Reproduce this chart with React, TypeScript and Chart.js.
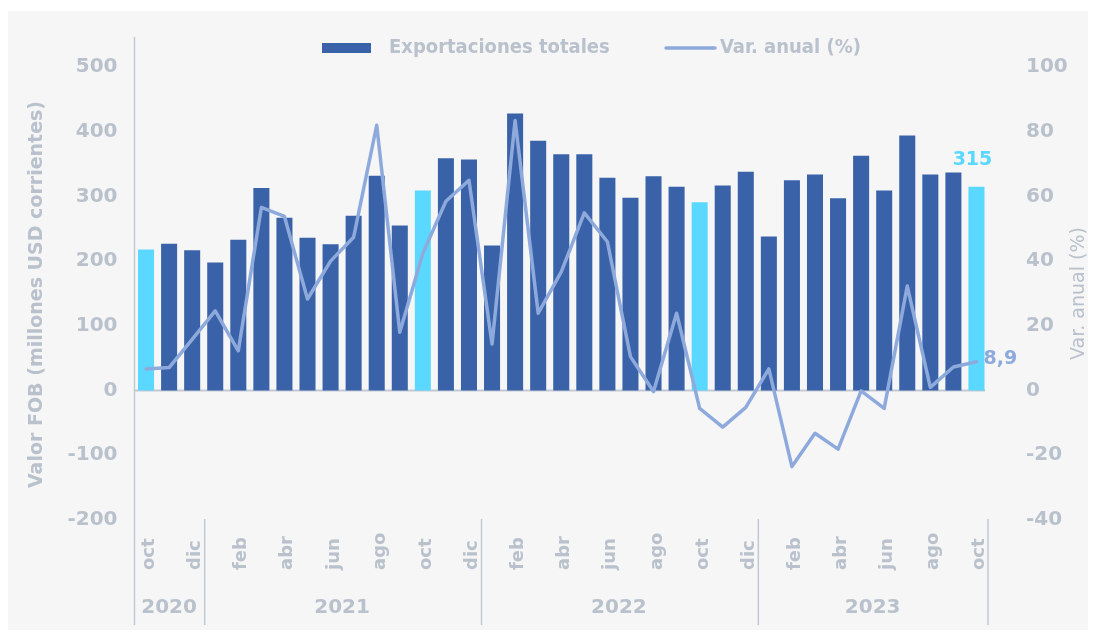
import { useEffect, useRef } from 'react';
import { Chart, registerables } from 'chart.js';

Chart.register(...registerables);

const months = [
  'oct', 'nov', 'dic',
  'ene', 'feb', 'mar', 'abr', 'may', 'jun', 'jul', 'ago', 'sep', 'oct', 'nov', 'dic',
  'ene', 'feb', 'mar', 'abr', 'may', 'jun', 'jul', 'ago', 'sep', 'oct', 'nov', 'dic',
  'ene', 'feb', 'mar', 'abr', 'may', 'jun', 'jul', 'ago', 'sep', 'oct',
];

const exportValues = [
  218, 227, 217,
  198, 233, 313, 267, 236, 226, 270, 332, 255, 309, 359, 357,
  224, 428, 386, 365, 365, 329, 298, 331, 315, 291, 317, 338,
  238, 325, 334, 297, 363, 309, 394, 334, 337, 315,
];

const varAnual = [
  6.7, 7.1, 15.8,
  24.6, 12.3, 56.6, 53.8, 28.3, 40.0, 47.4, 82.0, 18.0, 42.4, 58.5, 65.0,
  14.4, 83.5, 23.9, 36.7, 54.9, 46.0, 10.5, -0.3, 23.9, -5.5, -11.3, -5.2,
  6.7, -23.5, -13.2, -18.1, -0.1, -5.5, 32.3, 1.0, 7.3, 8.9,
];

const yearLabels = ['2020', '2021', '2022', '2023'];
const yearCounts = [3, 12, 12, 10];

const leftMin = -200;
const leftMax = 500;
const leftStep = 100;
const rightMin = -40;
const rightMax = 100;
const rightStep = 20;

const seriesNames = ['Exportaciones totales', 'Var. anual (%)'];
const leftTitle = 'Valor FOB (millones USD corrientes)';
const rightTitle = 'Var. anual (%)';

const TEXT = '#b9c1cc';
const AXIS = '#c3c9d2';
const BAR = '#3a62a8';
const HIGHLIGHT = '#5bd8ff';
const LINE = '#8eaadc';
const FONT = '"DejaVu Sans", sans-serif';
const FONT_C = '"DejaVu Sans Condensed", "DejaVu Sans", sans-serif';

const overlay = {
  id: 'overlay',
  beforeDatasetsDraw(chart: any) {
    const { ctx, chartArea: ca, scales } = chart;
    const y = scales.y;
    const x = scales.x;
    ctx.save();
    ctx.strokeStyle = AXIS;
    // zero line
    ctx.lineWidth = 2;
    const y0 = y.getPixelForValue(0);
    ctx.beginPath();
    ctx.moveTo(ca.left, y0);
    ctx.lineTo(ca.right - 3, y0);
    ctx.stroke();
    // left axis line
    ctx.lineWidth = 1.5;
    ctx.beginPath();
    ctx.moveTo(ca.left, ca.top - 30);
    ctx.lineTo(ca.left, ca.bottom + 105);
    ctx.stroke();
    // year separators
    const n = months.length;
    const step = n > 1 ? x.getPixelForValue(1) - x.getPixelForValue(0) : 0;
    let idx = 0;
    yearCounts.forEach((c) => {
      idx += c;
      const sx = idx >= n ? x.getPixelForValue(n - 1) + step / 2 : (x.getPixelForValue(idx - 1) + x.getPixelForValue(idx)) / 2 + 1;
      ctx.beginPath();
      ctx.moveTo(sx, ca.bottom - 1);
      ctx.lineTo(sx, ca.bottom + 105);
      ctx.stroke();
    });
    ctx.restore();
  },
  afterDraw(chart: any) {
    const { ctx, chartArea: ca, scales } = chart;
    const x = scales.x;
    const y = scales.y;
    const y1 = scales.y1;
    ctx.save();
    // month labels (every other month), rotated
    ctx.fillStyle = TEXT;
    ctx.font = `bold 18px ${FONT}`;
    ctx.textAlign = 'left';
    ctx.textBaseline = 'alphabetic';
    months.forEach((m, i) => {
      if (i % 2 !== 0) return;
      const px = x.getPixelForValue(i);
      ctx.save();
      ctx.translate(px + 8, ca.bottom + 50);
      ctx.rotate(-Math.PI / 2);
      ctx.fillText(m, 0, 0);
      ctx.restore();
    });
    // year labels
    ctx.font = `bold 20px ${FONT}`;
    ctx.textAlign = 'center';
    ctx.textBaseline = 'middle';
    let start = 0;
    yearLabels.forEach((yl, k) => {
      const end = start + yearCounts[k] - 1;
      const cx = (x.getPixelForValue(start) + x.getPixelForValue(end)) / 2;
      ctx.fillText(yl, cx, ca.bottom + 88);
      start = end + 1;
    });
    // axis titles
    ctx.font = `bold 19px ${FONT}`;
    ctx.save();
    ctx.translate(29, (ca.top + ca.bottom) / 2 + 1);
    ctx.rotate(-Math.PI / 2);
    ctx.fillText(leftTitle, 0, 0);
    ctx.restore();
    ctx.font = `19px ${FONT}`;
    ctx.save();
    ctx.translate(1071, y1.getPixelForValue(30));
    ctx.rotate(-Math.PI / 2);
    ctx.fillText(rightTitle, 0, 0);
    ctx.restore();
    // legend
    const ly = 37;
    ctx.fillStyle = BAR;
    ctx.fillRect(314, ly - 5, 49, 10);
    ctx.fillStyle = TEXT;
    ctx.font = `bold 20px ${FONT_C}`;
    ctx.textAlign = 'left';
    ctx.fillText(seriesNames[0], 381, ly);
    ctx.strokeStyle = LINE;
    ctx.lineWidth = 3.5;
    ctx.lineCap = 'round';
    ctx.beginPath();
    ctx.moveTo(658, ly);
    ctx.lineTo(707, ly);
    ctx.stroke();
    ctx.fillText(seriesNames[1], 712, ly);
    // data labels for the last point
    const last = months.length - 1;
    const bx = x.getPixelForValue(last);
    const by = y.getPixelForValue(exportValues[last]);
    ctx.font = `bold 19px ${FONT}`;
    ctx.fillStyle = HIGHLIGHT;
    ctx.textAlign = 'center';
    ctx.textBaseline = 'middle';
    ctx.fillText(String(exportValues[last]), bx - 4, by - 27);
    const ly1 = y1.getPixelForValue(varAnual[last]);
    ctx.fillStyle = LINE;
    ctx.textAlign = 'left';
    ctx.textBaseline = 'middle';
    ctx.fillText(varAnual[last].toFixed(1).replace('.', ','), bx + 7, ly1 - 3);
    ctx.restore();
  },
};

export default function App() {
  const ref = useRef<HTMLCanvasElement | null>(null);
  useEffect(() => {
    if (!ref.current) return;
    const chart = new Chart(ref.current, {
      data: {
        labels: months,
        datasets: [
          {
            type: 'line',
            label: seriesNames[1],
            data: varAnual,
            yAxisID: 'y1',
            borderColor: LINE,
            borderWidth: 3.5,
            pointRadius: 0,
            tension: 0,
            borderJoinStyle: 'round',
            borderCapStyle: 'round',
            order: 0,
          } as any,
          {
            type: 'bar',
            label: seriesNames[0],
            data: exportValues,
            yAxisID: 'y',
            backgroundColor: months.map((m) => (m === 'oct' ? HIGHLIGHT : BAR)),
            borderWidth: 0,
            categoryPercentage: 1,
            barPercentage: 0.695,
            order: 1,
          } as any,
        ],
      },
      options: {
        responsive: false,
        animation: false,
        layout: { padding: { top: 56, bottom: 110, left: 0, right: 0 } },
        plugins: { legend: { display: false }, tooltip: { enabled: false } },
        scales: {
          x: { display: false, offset: true },
          y: {
            position: 'left',
            min: leftMin,
            max: leftMax,
            grid: { display: false, drawTicks: false },
            border: { display: false },
            ticks: { stepSize: leftStep, padding: 17, color: TEXT, font: { family: FONT, size: 20, weight: 'bold' } },
            afterFit: (s: any) => { s.width = 126.5; },
          },
          y1: {
            position: 'right',
            min: rightMin,
            max: rightMax,
            grid: { display: false, drawTicks: false },
            border: { display: false },
            ticks: { stepSize: rightStep, padding: 38, color: TEXT, font: { family: FONT, size: 20, weight: 'bold' } },
            afterFit: (s: any) => { s.width = 108; },
          },
        },
      } as any,
      plugins: [overlay],
    });
    return () => chart.destroy();
  }, []);
  return (
    <div style={{ paddingTop: 3 }}>
      <div style={{ width: 1088, height: 619, background: '#f6f6f6' }}>
        <canvas ref={ref} width={1088} height={619} style={{ display: 'block' }} />
      </div>
    </div>
  );
}
